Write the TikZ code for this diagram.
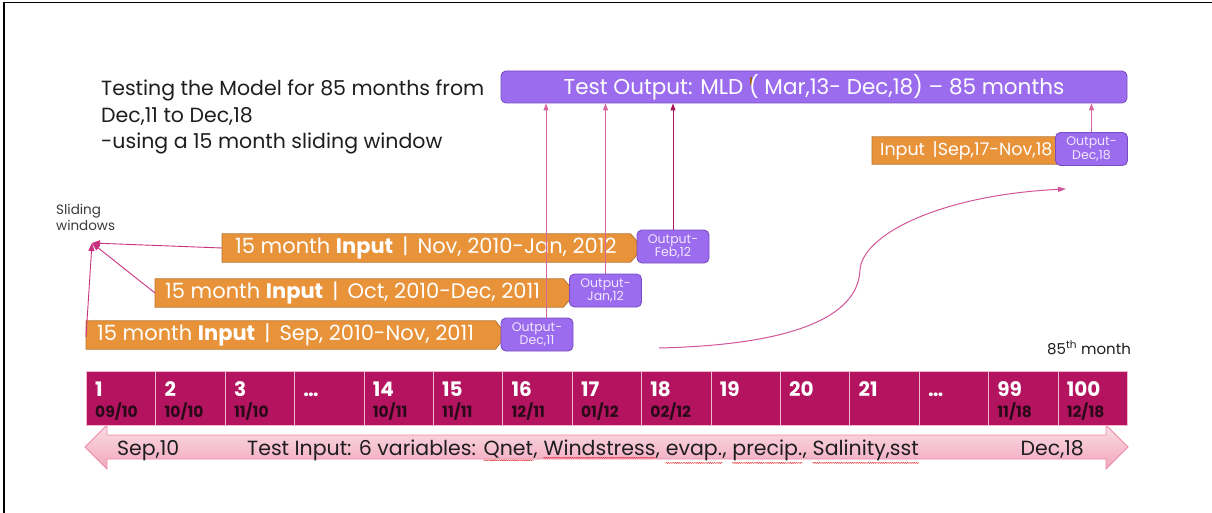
\documentclass[tikz,border=0pt]{standalone}
\usepackage{fontspec}
\setmainfont{Poppins}
\usetikzlibrary{arrows.meta,calc,backgrounds,decorations.pathmorphing}

\definecolor{violetfill}{HTML}{9C6CEE}
\definecolor{violetedge}{HTML}{7A4CC4}
\definecolor{violettext}{HTML}{F1E8FF}
\definecolor{orangefill}{HTML}{E8933A}
\definecolor{orangeedge}{HTML}{B8742E}
\definecolor{magcell}{HTML}{B3135F}
\definecolor{cellline}{HTML}{F2B8CF}
\definecolor{datecol}{HTML}{2A0A18}
\definecolor{linkdark}{HTML}{A9135C}
\definecolor{linkpink}{HTML}{D7649F}
\definecolor{slidecol}{HTML}{C8337F}
\definecolor{curvecol}{HTML}{D2559A}
\definecolor{bandtop}{HTML}{FADCE5}
\definecolor{bandbot}{HTML}{F2A7BD}
\definecolor{bandedge}{HTML}{EC8AA6}
\definecolor{inktext}{HTML}{1E1E1E}
\definecolor{softink}{HTML}{3A3A3A}
\definecolor{spellred}{HTML}{E03030}
\definecolor{caretmark}{HTML}{A0620A}

% red wavy underline for flagged words
\newcommand\spellwave[1]{\tikz[baseline=(sw.base)]{\node[inner sep=0pt] (sw) {#1};\draw[spellred, line width=0.45pt, decorate, decoration={snake, amplitude=0.55pt, segment length=2.2pt}] ([yshift=-2.4pt]sw.south west) -- ([yshift=-2.4pt]sw.south east);}}
% small text caret left in the output title
\newcommand\caretglyph{\makebox[0pt][l]{\hspace{0.5pt}\textcolor{caretmark}{\rule[0.42em]{2pt}{0.4em}}}}

\begin{document}
\begin{tikzpicture}[x=1pt, y=-1pt,
  violetbox/.style={rounded corners=5pt, fill=violetfill, draw=violetedge, line width=0.9pt, text=white, inner sep=0pt},
  outbox/.style={violetbox, minimum width=72pt, minimum height=33pt, align=center, text=violettext, font=\fontsize{12.5}{13.5}\selectfont},
  inframe/.style={minimum height=28pt, inner sep=0pt, anchor=west},
  inlabel/.style={anchor=west, inner sep=0pt, text=white, font=\fontsize{21}{24}\selectfont},
  inshape/.style={fill=orangefill, draw=orangeedge, line width=0.8pt},
  uplink/.style={line width=1pt, -{Triangle[length=7pt,width=5pt]}},
  slide/.style={draw=slidecol, line width=0.9pt, -{Triangle[length=8pt,width=6pt]}},
  sweep/.style={draw=curvecol, line width=1pt, -{Triangle[length=8pt,width=5pt]}},
  cell/.style={fill=magcell, draw=cellline, line width=0.8pt, minimum width=69.4pt, minimum height=54pt, anchor=north west, inner sep=0pt},
  cellnum/.style={anchor=base west, inner sep=0pt, text=white, font=\bfseries\fontsize{20}{22}\selectfont},
  celldate/.style={anchor=base west, inner sep=0pt, text=datecol, font=\bfseries\fontsize{15.5}{17}\selectfont},
  bandtext/.style={inner sep=0pt, text=inktext, font=\fontsize{20.5}{23}\selectfont},
]
\useasboundingbox (0,0) rectangle (1212,513);
\begin{scope}[on background layer]
  \fill[white] (0,0) rectangle (1212,513);
\end{scope}

% frame
\draw[line width=1.5pt] (4,513) -- (4,2.5) -- (1212,2.5);

% heading
\node[anchor=north west, align=left, inner sep=0pt, text=inktext, font=\fontsize{20.5}{26.5}\selectfont] (title) at (101,80)
  {Testing the Model for 85 months from\\Dec,11 to Dec,18\\-using a 15 month sliding window};

% test output bar
\node[violetbox, minimum width=626pt, minimum height=32pt, font=\fontsize{21.5}{24}\selectfont] (bar) at (814,87)
  {Test Output: MLD \caretglyph( Mar,13- Dec,18) -- 85 months};

% input windows
\node[inframe, minimum width=408pt] (w1) at (222,248) {};
\node[inframe, minimum width=408pt] (w2) at (155,293) {};
\node[inframe, minimum width=409pt] (w3) at (86,335) {};
\node[inframe, minimum width=184pt, minimum height=27pt] (w4) at (872,150.5) {};
\begin{scope}[on background layer]
  \foreach \w/\tip in {w1/13, w2/12, w3/11, w4/12}{
    \draw[inshape] (\w.north west) -- (\w.north east) -- ($(\w.east)+(\tip,0)$) -- (\w.south east) -- (\w.south west) -- cycle;
  }
\end{scope}
\node[inlabel] (t1) at ([xshift=13pt]w1.west) {15 month \textbf{Input} \,|\, Nov, 2010-Jan, 2012};
\node[inlabel] (t2) at ([xshift=10pt]w2.west) {15 month \textbf{Input} \,|\, Oct, 2010-Dec, 2011};
\node[inlabel] (t3) at ([xshift=11pt]w3.west) {15 month \textbf{Input} \,|\, Sep, 2010-Nov, 2011};
\node[inlabel, font=\fontsize{17.5}{19}\selectfont] (t4) at ([xshift=8pt]w4.west) {Input \,|Sep,17-Nov,18};

% outputs
\node[outbox] (o1) at (537,334.5) {Output-\\Dec,11};
\node[outbox] (o2) at (605.5,290.5) {Output-\\Jan,12};
\node[outbox] (o3) at (673,246.5) {Output-\\Feb,12};
\node[outbox] (o4) at (1091.5,149) {Output-\\Dec,18};

% outputs feed the test output bar
\draw[uplink, draw=linkpink, fill=linkdark] ([xshift=9pt]o1.north) -- ([xshift=9pt]o1.north |- bar.south);
\draw[uplink, draw=linkpink, fill=linkdark] (o2.north) -- (o2.north |- bar.south);
\draw[uplink, draw=linkdark, fill=linkdark] (o3.north) -- (o3.north |- bar.south);
\draw[uplink, draw=linkpink, fill=linkdark] (o4.north) -- (o4.north |- bar.south);

% sliding windows label
\node[anchor=north west, align=left, inner sep=0pt, text=softink, font=\fontsize{13.5}{16}\selectfont] (slab) at (56,204) {Sliding\\windows};
\coordinate (hub) at (92,243);
\draw[slide] (w1.west) -- (hub);
\draw[slide] (w2.west) -- (hub);
\draw[slide] ([yshift=-2pt]w3.west) -- (hub);

% sweep towards the last window
\coordinate (sweepstart) at (659,348);
\coordinate (sweepend) at (1066,189);
\draw[sweep] (sweepstart) .. controls (790,345) and (858,318) .. (860,270) .. controls (862,235) and (940,195) .. (sweepend);

\node[anchor=base west, inner sep=0pt, text=inktext, font=\fontsize{15}{17}\selectfont] (m85) at (1047,354) {85\textsuperscript{th} month};

% test input band
\shade[top color=bandtop, bottom color=bandbot, draw=bandedge, line width=0.8pt]
  (85,447) -- (107,425) -- (107,435) -- (1106,435) -- (1106,425) -- (1128,447) -- (1106,469) -- (1106,459) -- (107,459) -- (107,469) -- cycle;
\node[bandtext, anchor=base west] (bs) at (117,455) {Sep,10};
\node[bandtext, anchor=base west] (bm) at (247,455) {Test Input: 6 variables: \spellwave{Qnet}, \spellwave{Windstress}, \spellwave{evap.}, \spellwave{precip.}, \spellwave{Salinity,sst}};
\node[bandtext, anchor=base east] (be) at (1084,455) {Dec,18};

% month cells
\foreach \n/\dt [count=\i from 0] in {1/{09/10}, 2/{10/10}, 3/{11/10}, …/{}, 14/{10/11}, 15/{11/11}, 16/{12/11}, 17/{01/12}, 18/{02/12}, 19/{}, 20/{}, 21/{}, …/{}, 99/{11/18}, 100/{12/18}}{
  \node[cell] (c\i) at ({86+69.4*\i},371) {};
  \node[cellnum] (n\i) at ($(c\i.north west)+(9,25)$) {\n};
  \node[celldate] (d\i) at ($(c\i.north west)+(9,46)$) {\dt};
}
\end{tikzpicture}
\end{document}
